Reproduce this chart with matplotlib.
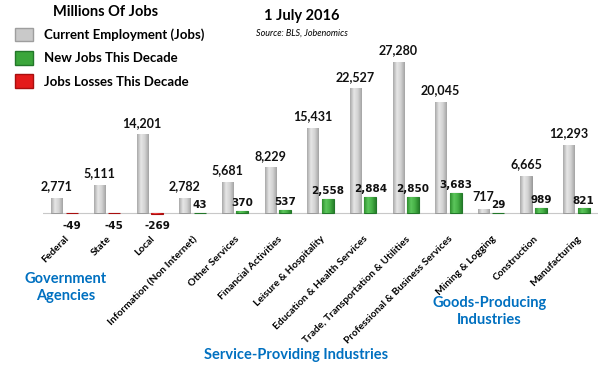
import matplotlib.pyplot as plt
from matplotlib.patches import Patch
from matplotlib.colors import LinearSegmentedColormap
import numpy as np

categories = ["Federal", "State", "Local", "Information (Non Internet)",
              "Other Services", "Financial Activities", "Leisure & Hospitality",
              "Education & Health Services", "Trade, Transportation & Utilities",
              "Professional & Business Services", "Mining & Logging",
              "Construction", "Manufacturing"]
current = [2771, 5111, 14201, 2782, 5681, 8229, 15431, 22527, 27280, 20045, 717, 6665, 12293]
change = [-49, -45, -269, 43, 370, 537, 2558, 2884, 2850, 3683, 29, 989, 821]

FONT = "Lato"
BLUE = "#0070C0"

gray_cm = LinearSegmentedColormap.from_list("g", ["#A9A9A9", "#E6E6E6", "#D2D2D2", "#A4A4A4"])
green_cm = LinearSegmentedColormap.from_list("gr", ["#2F8F2F", "#5CC65C", "#46B046", "#27812A"])
red_cm = LinearSegmentedColormap.from_list("r", ["#C01010", "#F04545", "#E02525", "#B00C0C"])


def shade(ax, bars, cms):
    # cylinder look: horizontal gradient clipped to each bar
    grad = np.linspace(0, 1, 64).reshape(1, -1)
    for b, cm in zip(bars, cms):
        x0, y0 = b.get_x(), b.get_y()
        w, h = b.get_width(), b.get_height()
        im = ax.imshow(grad, extent=(x0, x0 + w, y0, y0 + h), aspect="auto",
                       cmap=cm, zorder=b.get_zorder(), origin="lower")
        im.set_clip_path(b)


def main():
    fig = plt.figure(figsize=(6.04, 3.66), dpi=100)
    ax = fig.add_axes([0.0715, 0.3727, 0.918, 0.529])

    x = np.arange(len(categories))
    gx = x - 0.18
    cx = x + 0.17

    ax.axhline(0, color="#C8C8C8", linewidth=0.8, zorder=0)
    gb = ax.bar(gx, current, width=0.26, color="#C9C9C9", edgecolor="#9A9A9A",
                linewidth=0.7, zorder=2)
    ccol = ["#3BA63B" if v >= 0 else "#E41B1B" for v in change]
    cedge = ["#23772A" if v >= 0 else "#A80F0F" for v in change]
    cb = ax.bar(cx, change, width=0.28, color=ccol, edgecolor=cedge, linewidth=0.8, zorder=2)
    shade(ax, gb, [gray_cm] * len(gb))
    shade(ax, cb, [green_cm if v >= 0 else red_cm for v in change])

    for xi, v in zip(gx, current):
        ax.annotate(f"{v:,}", (xi, v), xytext=(0, 4), textcoords="offset points",
                    ha="center", va="bottom", fontsize=9, fontweight="bold",
                    family=FONT, color="#111111")
    for xi, v in zip(cx, change):
        if v >= 0:
            ax.annotate(f"{v:,}", (xi, v), xytext=(0, 2), textcoords="offset points",
                        ha="center", va="bottom", fontsize=7.5, fontweight="bold",
                        family="DejaVu Sans", color="#111111")
        else:
            ax.annotate(f"{v:,}", (xi, 0), xytext=(0, -6), textcoords="offset points",
                        ha="center", va="top", fontsize=7.5, fontweight="bold",
                        family="DejaVu Sans", color="#111111")

    ax.set_xlim(-0.5, len(categories) - 0.5)
    ax.set_ylim(-3000, 32000)
    ax.set_yticks([])
    ax.set_xticks(x)
    ax.set_xticklabels(categories, rotation=45, ha="right", rotation_mode="anchor",
                       fontsize=7.3, fontweight="bold", family=FONT)
    ax.tick_params(axis="x", length=0, pad=3.5)
    for s in ax.spines.values():
        s.set_visible(False)

    handles = [Patch(facecolor="#C9C9C9", edgecolor="#9E9E9E"),
               Patch(facecolor="#3BA63B", edgecolor="#23772A"),
               Patch(facecolor="#E41B1B", edgecolor="#A80F0F")]
    labels = ["Current Employment (Jobs)", "New Jobs This Decade", "Jobs Losses This Decade"]
    fig.legend(handles, labels, loc="upper left", bbox_to_anchor=(0.005, 0.957),
               frameon=False, handlelength=1.4, handleheight=1.2,
               labelspacing=0.75, prop={"family": FONT, "weight": "bold", "size": 9.5})
    fig.text(0.174, 0.967, "Millions Of Jobs", ha="center", va="center",
             fontsize=10.5, fontweight="bold", family=FONT)
    fig.text(0.5, 0.955, "1 July 2016", ha="center", va="center",
             fontsize=10.5, fontweight="bold", family=FONT)
    fig.text(0.5, 0.91, "Source: BLS, Jobenomics", ha="center", va="center",
             fontsize=6.5, style="italic", family=FONT)

    fig.text(0.108, 0.215, "Government\nAgencies", ha="center", va="center",
             fontsize=10.5, fontweight="bold", family=FONT, color=BLUE, linespacing=1.3)
    fig.text(0.81, 0.148, "Goods-Producing\nIndustries", ha="center", va="center",
             fontsize=10.5, fontweight="bold", family=FONT, color=BLUE, linespacing=1.3)
    fig.text(0.49, 0.03, "Service-Providing Industries", ha="center", va="center",
             fontsize=10.5, fontweight="bold", family=FONT, color=BLUE)

    fig.savefig("out.png", dpi=100)
    plt.close()


if __name__ == "__main__":
    main()
